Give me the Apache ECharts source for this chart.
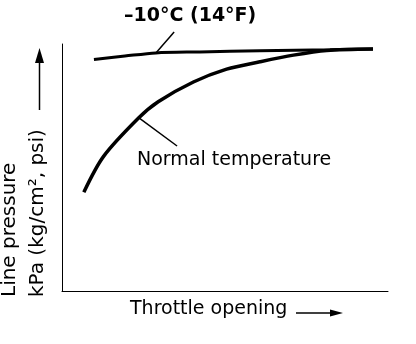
<!DOCTYPE html>
<html>
<head>
<meta charset="utf-8">
<script src="https://cdn.jsdelivr.net/npm/echarts@6/dist/echarts.min.js"></script>
<style>
  html, body { margin: 0; padding: 0; background: #fff; }
  #chart { width: 416px; height: 344px; }
</style>
</head>
<body>
<div id="chart"></div>
<script>
// values are on a 0..100 scale for both axes (no ticks in the original)
const coldLine = [
  [9.8, 93.7], [19.3, 95.1], [28.8, 96.4], [42.3, 96.8],
  [60.7, 97.3], [82.2, 97.7], [95.4, 98.0]
]
const normalLine = [
  [6.7, 40.0], [12.7, 54.4], [23.4, 69.9], [29.5, 76.6], [40.3, 84.6],
  [50.5, 89.8], [60.7, 92.8], [71.0, 95.5], [81.2, 97.4], [95.4, 98.0]
]
// leader lines from the labels to the curves
const coldLeader = [[28.8, 96.4], [34.4, 104.9]]
const normalLeader = [[23.3, 70.4], [35.3, 58.7]]

const coldLabel = '–10°C (14°F)'
const normalLabel = 'Normal temperature'
const xLabel = 'Throttle opening'
const yLabel1 = 'Line pressure'
const yLabel2 = 'kPa (kg/cm², psi)'

const font = 'DejaVu Sans'

const chart = echarts.init(document.getElementById('chart'))

const axisBase = {
  type: 'value',
  min: 0,
  max: 100,
  axisLine: { show: true, lineStyle: { color: '#000', width: 1 } },
  axisTick: { show: false },
  axisLabel: { show: false },
  splitLine: { show: false }
}

function lineSeries(data, width, smooth) {
  return {
    type: 'line',
    data: data,
    symbol: 'none',
    smooth: smooth,
    clip: false,
    lineStyle: { color: '#000', width: width },
    silent: true
  }
}

chart.setOption({
  animation: false,
  backgroundColor: '#fff',
  grid: { left: 62, right: 28, top: 44, bottom: 53 },
  xAxis: axisBase,
  yAxis: axisBase,
  series: [
    lineSeries(coldLine, 3, 0.3),
    lineSeries(normalLine, 3.5, 0.3),
    lineSeries(coldLeader, 1.5, false),
    lineSeries(normalLeader, 1.5, false)
  ],
  graphic: [
    {
      type: 'text', left: 124, top: 7,
      style: { text: coldLabel, font: 'bold 19px ' + font, fill: '#000' }
    },
    {
      type: 'text', left: 137, top: 151,
      style: { text: normalLabel, font: '19px ' + font, fill: '#000' }
    },
    {
      type: 'text', left: 130, top: 300,
      style: { text: xLabel, font: '19px ' + font, fill: '#000' }
    },
    // x arrow
    { type: 'line', shape: { x1: 296, y1: 313, x2: 333, y2: 313 }, style: { stroke: '#000', lineWidth: 1.5 } },
    { type: 'polygon', shape: { points: [[330, 309.5], [343, 313], [330, 316.5]] }, style: { fill: '#000' } },
    // y arrow
    { type: 'line', shape: { x1: 39.5, y1: 110, x2: 39.5, y2: 60 }, style: { stroke: '#000', lineWidth: 1.5 } },
    { type: 'polygon', shape: { points: [[35, 63], [39.5, 48], [44, 63]] }, style: { fill: '#000' } },
    // y axis title, two rotated lines
    {
      type: 'text', x: 10, y: 297, rotation: Math.PI / 2,
      style: { text: yLabel1, font: '20px ' + font, fill: '#000', textAlign: 'left', textVerticalAlign: 'middle' }
    },
    {
      type: 'text', x: 38, y: 297, rotation: Math.PI / 2,
      style: { text: yLabel2, font: '20px ' + font, fill: '#000', textAlign: 'left', textVerticalAlign: 'middle' }
    }
  ]
})
</script>
</body>
</html>
